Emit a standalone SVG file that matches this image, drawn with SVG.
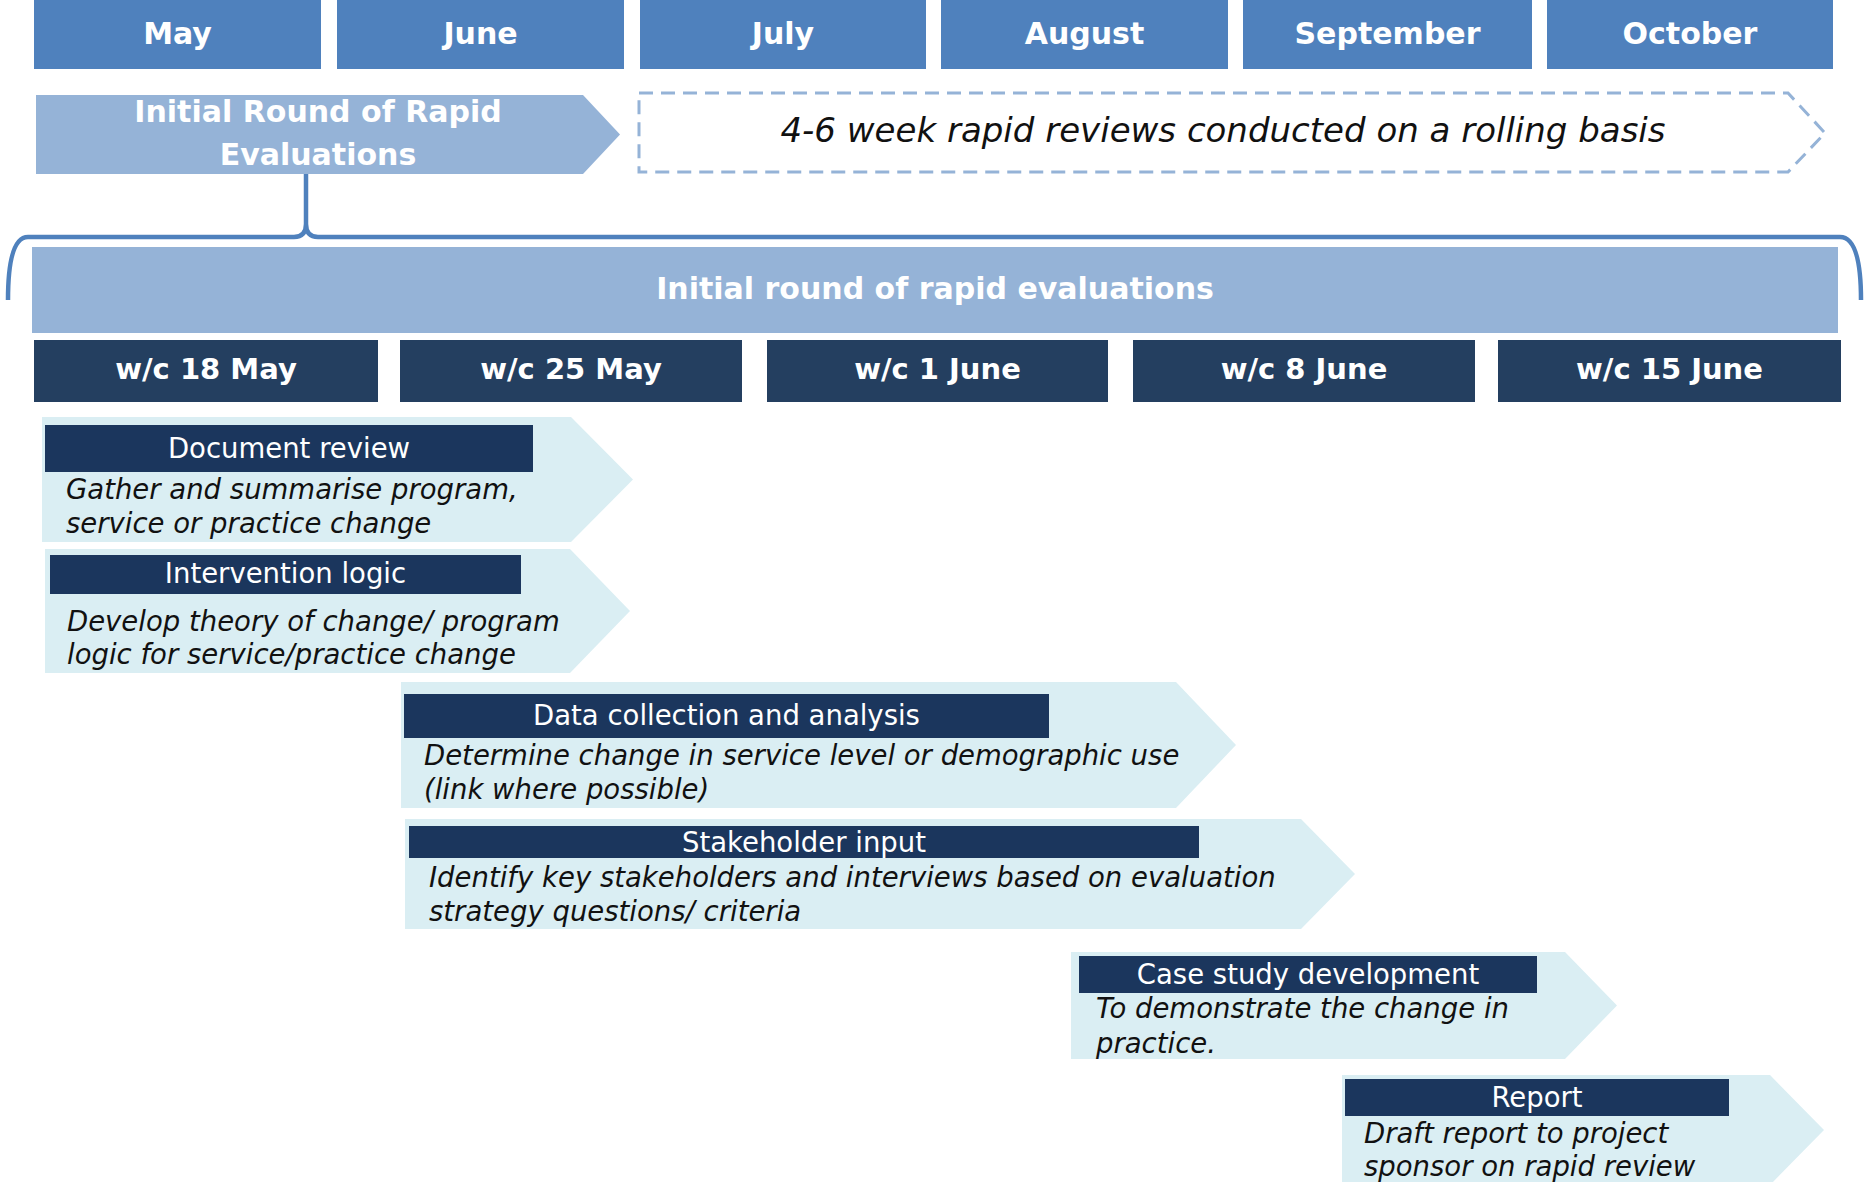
<svg xmlns="http://www.w3.org/2000/svg" width="1865" height="1182" viewBox="0 0 1865 1182">
<style>
text{font-family:"DejaVu Sans","Liberation Sans",sans-serif}
.month{fill:#4F81BD}
.mt{fill:#fff;font-weight:bold;font-size:30px;text-anchor:middle}
.week{fill:#243F60}
.wt{fill:#fff;font-weight:bold;font-size:29px;text-anchor:middle}
.lb{fill:#95B3D7}
.task{fill:#DAEEF3}
.hdr{fill:#1B365D}
.ht{fill:#fff;font-size:27.5px;text-anchor:middle}
.dt{fill:#111;font-size:27.5px;font-style:italic}
</style>
<rect width="1865" height="1182" fill="#fff"/>
<g id="months">
<g id="m-may"><rect class="month" x="34" y="0" width="287" height="69"/><text class="mt" x="177.5" y="44">May</text></g>
<g id="m-june"><rect class="month" x="337" y="0" width="287" height="69"/><text class="mt" x="480.5" y="44">June</text></g>
<g id="m-july"><rect class="month" x="640" y="0" width="286" height="69"/><text class="mt" x="783" y="44">July</text></g>
<g id="m-august"><rect class="month" x="941" y="0" width="287" height="69"/><text class="mt" x="1084.5" y="44">August</text></g>
<g id="m-september"><rect class="month" x="1243" y="0" width="289" height="69"/><text class="mt" x="1387.5" y="44">September</text></g>
<g id="m-october"><rect class="month" x="1547" y="0" width="286" height="69"/><text class="mt" x="1690" y="44">October</text></g>
</g>
<g id="initial-round">
<polygon class="lb" points="36,95 583,95 620,134.5 583,174 36,174"/>
<text class="mt" x="318" y="122">Initial Round of Rapid</text>
<text class="mt" x="318" y="165">Evaluations</text>
</g>
<g id="rolling">
<polygon points="639,93 1788,93 1825,133 1788,172 639,172" fill="none" stroke="#95B3D7" stroke-width="3" stroke-dasharray="14 8"/>
<text x="1223" y="142" font-size="34" font-style="italic" fill="#111" text-anchor="middle">4-6 week rapid reviews conducted on a rolling basis</text>
</g>
<g id="connectors">
<path d="M8 300 Q8 237 28 237 L294 237 Q306 237 306 224 L306 174 M306 224 Q306 237 318 237 L1840 237 Q1861 237 1861 300" fill="none" stroke="#4F81BD" stroke-width="4.5" stroke-linejoin="round"/>
</g>
<g id="banner">
<rect class="lb" x="32" y="247" width="1806" height="86"/>
<text class="mt" x="935" y="299">Initial round of rapid evaluations</text>
</g>
<g id="weeks">
<g id="w1"><rect class="week" x="34" y="340" width="344" height="62"/><text class="wt" x="206" y="379">w/c 18 May</text></g>
<g id="w2"><rect class="week" x="400" y="340" width="342" height="62"/><text class="wt" x="571" y="379">w/c 25 May</text></g>
<g id="w3"><rect class="week" x="767" y="340" width="341" height="62"/><text class="wt" x="937.5" y="379">w/c 1 June</text></g>
<g id="w4"><rect class="week" x="1133" y="340" width="342" height="62"/><text class="wt" x="1304" y="379">w/c 8 June</text></g>
<g id="w5"><rect class="week" x="1498" y="340" width="343" height="62"/><text class="wt" x="1669.5" y="379">w/c 15 June</text></g>
</g>
<g id="t-document">
<polygon class="task" points="42,417 571,417 633,479.5 571,542 42,542"/>
<rect class="hdr" x="45" y="425" width="488" height="47"/>
<text class="ht" x="289" y="458">Document review</text>
<text class="dt" x="66" y="499">Gather and summarise program,</text>
<text class="dt" x="66" y="533">service or practice change</text>
</g>
<g id="t-intervention">
<polygon class="task" points="45,549 570,549 630,611 570,673 45,673"/>
<rect class="hdr" x="50" y="555" width="471" height="39"/>
<text class="ht" x="285.5" y="583">Intervention logic</text>
<text class="dt" x="67" y="631">Develop theory of change/ program</text>
<text class="dt" x="67" y="664">logic for service/practice change</text>
</g>
<g id="t-data">
<polygon class="task" points="401,682 1176,682 1236,745 1176,808 401,808"/>
<rect class="hdr" x="404" y="694" width="645" height="44"/>
<text class="ht" x="726.5" y="725">Data collection and analysis</text>
<text class="dt" x="424" y="765">Determine change in service level or demographic use</text>
<text class="dt" x="424" y="799">(link where possible)</text>
</g>
<g id="t-stakeholder">
<polygon class="task" points="405,819 1301,819 1355,874 1301,929 405,929"/>
<rect class="hdr" x="409" y="826" width="790" height="32"/>
<text class="ht" x="804" y="852">Stakeholder input</text>
<text class="dt" x="429" y="887">Identify key stakeholders and interviews based on evaluation</text>
<text class="dt" x="429" y="921">strategy questions/ criteria</text>
</g>
<g id="t-case">
<polygon class="task" points="1071,952 1565,952 1617,1005.5 1565,1059 1071,1059"/>
<rect class="hdr" x="1079" y="956" width="458" height="37"/>
<text class="ht" x="1308" y="984">Case study development</text>
<text class="dt" x="1096" y="1018">To demonstrate the change in</text>
<text class="dt" x="1096" y="1053">practice.</text>
</g>
<g id="t-report">
<polygon class="task" points="1342,1075 1770,1075 1824,1130 1770,1185 1342,1185"/>
<rect class="hdr" x="1345" y="1079" width="384" height="37"/>
<text class="ht" x="1537" y="1107">Report</text>
<text class="dt" x="1364" y="1143">Draft report to project</text>
<text class="dt" x="1364" y="1176">sponsor on rapid review</text>
</g>
</svg>
